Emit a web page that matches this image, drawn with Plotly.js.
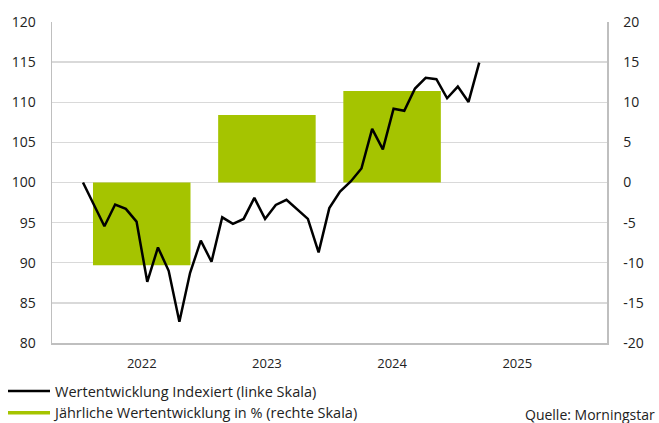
<!DOCTYPE html>
<html><head><meta charset="utf-8">
<script src="https://cdn.plot.ly/plotly-3.0.1.min.js"></script>
<style>html,body{margin:0;padding:0;background:#fff}#chart{width:659px;height:423px}</style>
</head><body><div id="chart"></div>
<script>
// Years (bar categories / x tick labels)
const years = ['2022', '2023', '2024', '2025'];
// Annual return in % (right scale)
const annualReturn = [-10.3, 8.4, 11.4, null];
// Monthly observation dates for the indexed line
const months = [
  '2021-12',
  '2022-01','2022-02','2022-03','2022-04','2022-05','2022-06','2022-07','2022-08','2022-09','2022-10','2022-11','2022-12',
  '2023-01','2023-02','2023-03','2023-04','2023-05','2023-06','2023-07','2023-08','2023-09','2023-10','2023-11','2023-12',
  '2024-01','2024-02','2024-03','2024-04','2024-05','2024-06','2024-07','2024-08','2024-09','2024-10','2024-11','2024-12',
  '2025-01'
];
// Indexed performance (left scale)
const indexValues = [
  100.0,
  97.25, 94.54, 97.25, 96.71, 95.13, 87.63, 91.91, 89.0, 82.66, 88.75, 92.75, 90.13,
  95.66, 94.84, 95.46, 98.09, 95.46, 97.21, 97.84, 96.71, 95.46, 91.29, 96.81, 98.88,
  100.13, 101.75, 106.69, 104.13, 109.19, 108.94, 111.71, 113.04, 112.88, 110.5, 111.95, 110.04,
  114.94
];
const leftTicks = [80, 85, 90, 95, 100, 105, 110, 115, 120];
const leftTickText = ['80', '85', '90', '95', '100', '105', '110', '115', '120'];
const rightTicks = [-20, -15, -10, -5, 0, 5, 10, 15, 20];
const rightTickText = ['-20', '-15', '-10', '-5', '0', '5', '10', '15', '20'];
const lineName = 'Wertentwicklung Indexiert (linke Skala)';
const barName = 'Jährliche Wertentwicklung in % (rechte Skala)';
const sourceText = 'Quelle: Morningstar';

const green = '#a5c400';
const axisGray = '#bfbfbf';
const gridGray = '#d9d9d9';
const textColor = '#222222';
const fontFamily = '"Open Sans", "Noto Sans", sans-serif';

const data = [
  {
    type: 'bar', x: years, y: annualReturn, xaxis: 'x', yaxis: 'y',
    marker: {color: green}, showlegend: false, hoverinfo: 'skip'
  },
  {
    type: 'scatter', mode: 'lines', name: lineName,
    x: months, y: indexValues, xaxis: 'x2', yaxis: 'y2',
    line: {color: '#000000', width: 2.5}
  },
  {
    type: 'scatter', mode: 'lines', name: barName,
    x: [null], y: [null], xaxis: 'x2', yaxis: 'y2',
    line: {color: green, width: 3.5}
  }
];

const layout = {
  width: 659, height: 423,
  margin: {l: 52, r: 52, t: 22, b: 80, autoexpand: false},
  paper_bgcolor: '#ffffff', plot_bgcolor: '#ffffff',
  font: {family: fontFamily, size: 14, color: textColor},
  bargap: 0.221,
  showlegend: true,
  legend: {
    xref: 'container', yref: 'container', x: 3/659, y: 1 - 375/423,
    xanchor: 'left', yanchor: 'top', orientation: 'v',
    font: {size: 14.5, color: textColor}, bgcolor: 'rgba(0,0,0,0)',
    traceorder: 'normal', itemwidth: 42
  },
  xaxis: {
    type: 'category', categoryorder: 'array', categoryarray: years,
    range: [-0.717, 3.717], showgrid: false, zeroline: false,
    showline: true, linecolor: axisGray, linewidth: 1.5,
    ticks: '', ticklabelstandoff: 8, tickfont: {size: 13}, fixedrange: true
  },
  yaxis: {
    side: 'right', range: [-20, 20], tickvals: rightTicks, ticktext: rightTickText,
    showgrid: true, gridcolor: gridGray, gridwidth: 1.3, zeroline: false,
    showline: true, linecolor: axisGray, linewidth: 1.5,
    ticks: '', ticklabelstandoff: 12, fixedrange: true
  },
  xaxis2: {
    type: 'category', categoryorder: 'array', categoryarray: months,
    overlaying: 'x', range: [-2.895, 48.93], visible: false, fixedrange: true
  },
  yaxis2: {
    overlaying: 'y', side: 'left', range: [80, 120], tickvals: leftTicks, ticktext: leftTickText,
    showgrid: false, zeroline: false,
    showline: true, linecolor: axisGray, linewidth: 1.5,
    ticks: '', ticklabelstandoff: 12, fixedrange: true
  },
  annotations: [{
    text: sourceText, xref: 'paper', yref: 'paper',
    x: 1 + 50/555, y: -(414-343)/321, xanchor: 'right', yanchor: 'middle',
    showarrow: false, font: {size: 14, color: textColor}
  }]
};

Plotly.newPlot('chart', data, layout, {displayModeBar: false, staticPlot: true});
</script>
</body></html>
